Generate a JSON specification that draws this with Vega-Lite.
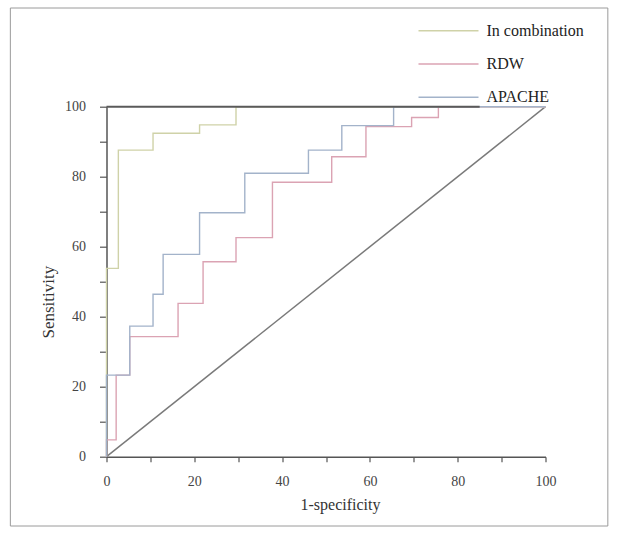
{
  "$schema": "https://vega.github.io/schema/vega-lite/v6.json",
  "width": 439,
  "height": 350,
  "autosize": "none",
  "padding": {"left": 106.5, "top": 106.7, "right": 72.5, "bottom": 82.3},
  "background": "white",
  "config": {"view": {"stroke": null}, "font": "Liberation Serif"},
  "resolve": {"axis": {"x": "independent", "y": "independent"}},
  "datasets": {
    "roc": [
      {"series": "In combination", "i": 0, "x": 0, "y": 0},
      {"series": "In combination", "i": 1, "x": 0, "y": 53.8},
      {"series": "In combination", "i": 2, "x": 2.7, "y": 53.8},
      {"series": "In combination", "i": 3, "x": 2.7, "y": 87.6},
      {"series": "In combination", "i": 4, "x": 10.6, "y": 87.6},
      {"series": "In combination", "i": 5, "x": 10.6, "y": 92.4},
      {"series": "In combination", "i": 6, "x": 21.2, "y": 92.4},
      {"series": "In combination", "i": 7, "x": 21.2, "y": 94.8},
      {"series": "In combination", "i": 8, "x": 29.5, "y": 94.8},
      {"series": "In combination", "i": 9, "x": 29.5, "y": 100},
      {"series": "In combination", "i": 10, "x": 100, "y": 100},
      {"series": "RDW", "i": 0, "x": 0, "y": 0},
      {"series": "RDW", "i": 1, "x": 0, "y": 4.8},
      {"series": "RDW", "i": 2, "x": 2.2, "y": 4.8},
      {"series": "RDW", "i": 3, "x": 2.2, "y": 23.3},
      {"series": "RDW", "i": 4, "x": 5.3, "y": 23.3},
      {"series": "RDW", "i": 5, "x": 5.3, "y": 34.3},
      {"series": "RDW", "i": 6, "x": 16.3, "y": 34.3},
      {"series": "RDW", "i": 7, "x": 16.3, "y": 43.8},
      {"series": "RDW", "i": 8, "x": 22.0, "y": 43.8},
      {"series": "RDW", "i": 9, "x": 22.0, "y": 55.7},
      {"series": "RDW", "i": 10, "x": 29.5, "y": 55.7},
      {"series": "RDW", "i": 11, "x": 29.5, "y": 62.6},
      {"series": "RDW", "i": 12, "x": 37.8, "y": 62.6},
      {"series": "RDW", "i": 13, "x": 37.8, "y": 78.4},
      {"series": "RDW", "i": 14, "x": 51.3, "y": 78.4},
      {"series": "RDW", "i": 15, "x": 51.3, "y": 85.7},
      {"series": "RDW", "i": 16, "x": 59.1, "y": 85.7},
      {"series": "RDW", "i": 17, "x": 59.1, "y": 94.3},
      {"series": "RDW", "i": 18, "x": 69.5, "y": 94.3},
      {"series": "RDW", "i": 19, "x": 69.5, "y": 96.9},
      {"series": "RDW", "i": 20, "x": 75.6, "y": 96.9},
      {"series": "RDW", "i": 21, "x": 75.6, "y": 100},
      {"series": "RDW", "i": 22, "x": 100, "y": 100},
      {"series": "APACHE", "i": 0, "x": 0, "y": 0},
      {"series": "APACHE", "i": 1, "x": 0, "y": 23.3},
      {"series": "APACHE", "i": 2, "x": 5.3, "y": 23.3},
      {"series": "APACHE", "i": 3, "x": 5.3, "y": 37.3},
      {"series": "APACHE", "i": 4, "x": 10.6, "y": 37.3},
      {"series": "APACHE", "i": 5, "x": 10.6, "y": 46.4},
      {"series": "APACHE", "i": 6, "x": 12.9, "y": 46.4},
      {"series": "APACHE", "i": 7, "x": 12.9, "y": 57.8},
      {"series": "APACHE", "i": 8, "x": 21.2, "y": 57.8},
      {"series": "APACHE", "i": 9, "x": 21.2, "y": 69.7},
      {"series": "APACHE", "i": 10, "x": 31.5, "y": 69.7},
      {"series": "APACHE", "i": 11, "x": 31.5, "y": 81},
      {"series": "APACHE", "i": 12, "x": 46, "y": 81},
      {"series": "APACHE", "i": 13, "x": 46, "y": 87.6},
      {"series": "APACHE", "i": 14, "x": 53.6, "y": 87.6},
      {"series": "APACHE", "i": 15, "x": 53.6, "y": 94.6},
      {"series": "APACHE", "i": 16, "x": 65.4, "y": 94.6},
      {"series": "APACHE", "i": 17, "x": 65.4, "y": 100},
      {"series": "APACHE", "i": 18, "x": 100, "y": 100}
    ],
    "diag": [
      {"x": 0, "y": 0},
      {"x": 100, "y": 100}
    ],
    "frame": [
      {"x0": -21.9, "x1": 114.2, "y0": -19.8, "y1": 128.2}
    ],
    "topline": [
      {"x0": 0, "x1": 85, "y": 100}
    ]
  },
  "layer": [
    {
      "data": {"name": "frame"},
      "mark": {"type": "rect", "fill": "white", "fillOpacity": 0, "stroke": "#9a9a9a", "strokeWidth": 1, "clip": false},
      "encoding": {
        "x": {"field": "x0", "type": "quantitative", "scale": {"domain": [0, 100], "nice": false, "zero": false}, "axis": null},
        "x2": {"field": "x1"},
        "y": {"field": "y0", "type": "quantitative", "scale": {"domain": [0, 100], "nice": false, "zero": false}, "axis": null},
        "y2": {"field": "y1"}
      }
    },
    {
      "data": {"name": "diag"},
      "mark": {"type": "line", "color": "#7a7a7a", "strokeWidth": 1.5},
      "encoding": {
        "x": {"field": "x", "type": "quantitative", "scale": {"domain": [0, 100], "nice": false, "zero": false}, "axis": null},
        "y": {"field": "y", "type": "quantitative", "scale": {"domain": [0, 100], "nice": false, "zero": false}, "axis": null}
      }
    },
    {
      "data": {"name": "roc"},
      "mark": {"type": "line", "strokeWidth": 1.4, "interpolate": "linear"},
      "encoding": {
        "x": {
          "field": "x",
          "type": "quantitative",
          "scale": {"domain": [0, 100], "nice": false, "zero": false},
          "axis": {
            "values": [0, 10, 20, 30, 40, 50, 60, 70, 80, 90, 100],
            "labelExpr": "datum.value % 20 === 0 ? datum.label : ''",
            "grid": false,
            "domainColor": "#555",
            "domainWidth": 1.5,
            "tickColor": "#555",
            "tickSize": 5,
            "tickWidth": 1.2,
            "labelFont": "Liberation Serif",
            "labelFontSize": 14,
            "labelColor": "#444",
            "labelPadding": 13,
            "labelFlush": false,
            "labelOverlap": false,
            "titleFont": "Liberation Serif",
            "titleFontSize": 16,
            "titleFontWeight": "normal",
            "titleColor": "#333",
            "titleX": 233.5,
            "titleY": 48,
            "titleAlign": "center",
            "titleBaseline": "middle"
          },
          "title": "1-specificity"
        },
        "y": {
          "field": "y",
          "type": "quantitative",
          "scale": {"domain": [0, 100], "nice": false, "zero": false},
          "axis": {
            "values": [0, 10, 20, 30, 40, 50, 60, 70, 80, 90, 100],
            "labelExpr": "datum.value % 20 === 0 ? datum.label : ''",
            "grid": false,
            "domainColor": "#555",
            "domainWidth": 1.5,
            "tickColor": "#555",
            "tickSize": 7,
            "tickWidth": 1.2,
            "labelFont": "Liberation Serif",
            "labelFontSize": 14,
            "labelColor": "#444",
            "labelPadding": 14,
            "labelFlush": false,
            "labelOverlap": false,
            "titleFont": "Liberation Serif",
            "titleFontSize": 17,
            "titleFontWeight": "normal",
            "titleColor": "#333",
            "titleAngle": -90,
            "titleX": -58,
            "titleY": 195,
            "titleAlign": "center",
            "titleBaseline": "middle"
          },
          "title": "Sensitivity"
        },
        "color": {
          "field": "series",
          "type": "nominal",
          "scale": {"domain": ["In combination", "RDW", "APACHE"], "range": ["#cfd2a8", "#dba3b3", "#a3b3ca"]},
          "legend": {
            "orient": "none",
            "legendX": 311,
            "legendY": -86,
            "title": null,
            "symbolType": "stroke",
            "symbolSize": 3600,
            "symbolStrokeWidth": 1.5,
            "clipHeight": 20,
            "rowPadding": 13.3,
            "labelFont": "Liberation Serif",
            "labelFontSize": 16,
            "labelColor": "#222",
            "labelOffset": 7,
            "padding": 0
          }
        },
        "order": {"field": "i", "type": "quantitative"}
      }
    },
    {
      "data": {"name": "topline"},
      "mark": {"type": "rule", "color": "#5a5a5a", "strokeWidth": 2},
      "encoding": {
        "x": {"field": "x0", "type": "quantitative", "scale": {"domain": [0, 100], "nice": false, "zero": false}, "axis": null},
        "x2": {"field": "x1"},
        "y": {"field": "y", "type": "quantitative", "scale": {"domain": [0, 100], "nice": false, "zero": false}, "axis": null}
      }
    }
  ]
}
